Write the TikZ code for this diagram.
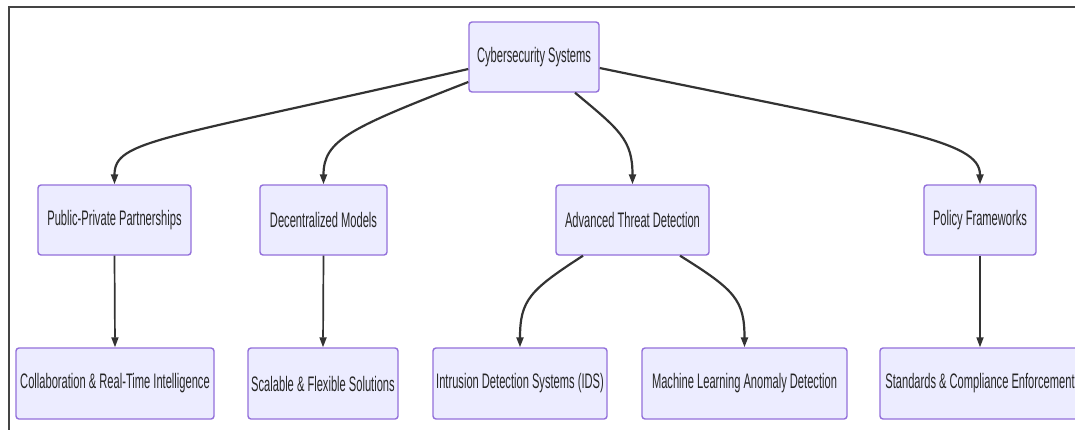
\documentclass[tikz,border=0pt]{standalone}
\usepackage{fontspec}
\setmainfont{Liberation Sans}[FakeStretch=0.53]
\usetikzlibrary{arrows.meta}
\definecolor{nodefill}{HTML}{ECECFF}
\definecolor{nodeline}{HTML}{9370DB}
\definecolor{edgecol}{HTML}{333333}
\definecolor{framecol}{HTML}{444444}
\begin{document}
\begin{tikzpicture}[x=1pt,y=-1pt,
  box/.style={draw=nodeline,fill=nodefill,line width=1.4pt,rounded corners=3pt,
    inner sep=0pt,font=\fontsize{21}{24}\selectfont,text=black!85},
  link/.style={draw=edgecol,line width=2.2pt,-{Triangle[length=10pt,width=7pt]}},
  slink/.style={draw=edgecol,line width=1.7pt,-{Triangle[length=10pt,width=7pt]}}]
\useasboundingbox (0,0) rectangle (1075,429);
\clip (0,0) rectangle (1075,429);
\fill[white] (0,0) rectangle (1075,429);
\draw[framecol,line width=1.5pt] (1080,7) -- (9,7) -- (9,435);
% nodes
\node[box,minimum width=130pt,minimum height=70pt] (root) at (534,57) {Cybersecurity Systems};
\node[box,minimum width=153pt,minimum height=70pt] (pub) at (114.5,220) {Public-Private Partnerships};
\node[box,minimum width=127pt,minimum height=70pt] (dec) at (323.5,220) {Decentralized Models};
\node[box,minimum width=153pt,minimum height=70pt] (adv) at (632.5,220) {Advanced Threat Detection};
\node[box,minimum width=112pt,minimum height=70pt] (pol) at (980,220) {Policy Frameworks};
\node[box,minimum width=198pt,minimum height=71pt] (col) at (115,383.5) {Collaboration \& Real-Time Intelligence};
\node[box,minimum width=150pt,minimum height=71pt] (sca) at (323,383.5) {Scalable \& Flexible Solutions};
\node[box,minimum width=174pt,minimum height=71pt] (ids) at (520,383.5) {Intrusion Detection Systems (IDS)};
\node[box,minimum width=205pt,minimum height=71pt] (ml) at (744.5,383.5) {Machine Learning Anomaly Detection};
\node[box,minimum width=200pt,minimum height=71pt] (std) at (980,383.5) {Standards \& Compliance Enforcement};
% edges
\draw[link] ([yshift=-12pt]root.west) .. controls (160,140) and (114.5,140) .. (pub.north);
\draw[link] ([yshift=-25pt]root.west) .. controls (350,128) and (323.5,140) .. (dec.north);
\draw[link] ([xshift=41pt]root.south) .. controls (620,130) and (632.5,140) .. (adv.north);
\draw[link] ([yshift=-11pt]root.east) .. controls (900,130) and (980,140) .. (pol.north);
\draw[slink] (pub.south) -- (col.north);
\draw[slink] (dec.south) -- (sca.north);
\draw[link] ([xshift=-49.5pt]adv.south) .. controls (530,290) and (520,300) .. (ids.north);
\draw[link] ([xshift=47.5pt]adv.south) .. controls (735,290) and (744.5,300) .. (ml.north);
\draw[slink] (pol.south) -- (std.north);
\end{tikzpicture}
\end{document}
